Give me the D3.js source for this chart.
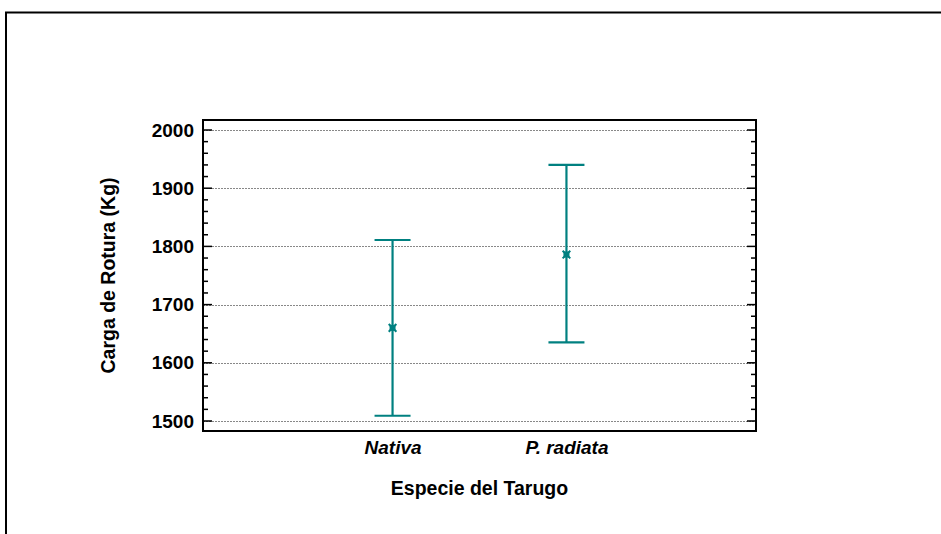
<!DOCTYPE html>
<html lang="es">
  <head>
    <meta charset="utf-8">
    <title>Carga de Rotura por especie</title>
    <script src="https://cdn.jsdelivr.net/npm/d3@7"></script>
    <style>
      body { margin: 0; background: #fff; }
      svg { display: block; font-family: "Liberation Sans", Arial, sans-serif; }
    </style>
  </head>
  <body>
    <script>
    // datos (media e intervalo)
    var species = ["Nativa", "P. radiata"];
    var means = [1660, 1786];
    var lower = [1509, 1635];
    var upper = [1811, 1940];
    var yTicks = [1500, 1600, 1700, 1800, 1900, 2000];

    var w = 941, h = 534;
    var pLeft = 203, pRight = 756, pTop = 120, pBottom = 431;
    var teal = "#008080";

    var svg = d3.select("body").append("svg")
                .attr("width", w)
                .attr("height", h);

    // marco exterior
    svg.append("path")
       .attr("d", "M6,534 V12.5 H941")
       .attr("fill", "none")
       .attr("stroke", "#000")
       .attr("stroke-width", 2);

    var yScale = d3.scaleLinear()
                   .domain([1500, 2000])
                   .range([421, 130]);
    // extender el dominio hasta los bordes del area
    yScale.domain([yScale.invert(pBottom), yScale.invert(pTop)]).range([pBottom, pTop]);

    var xScale = d3.scalePoint()
                   .domain(species)
                   .range([pLeft, pRight])
                   .padding(1.09);

    // lineas de grilla
    svg.selectAll(".grid")
       .data(yTicks)
       .enter()
       .append("line")
       .attr("x1", pLeft).attr("x2", pRight)
       .attr("y1", function(d) { return Math.round(yScale(d)) + 0.5; })
       .attr("y2", function(d) { return Math.round(yScale(d)) + 0.5; })
       .attr("stroke", "#888")
       .attr("stroke-dasharray", "2,1");

    // ticks menores cada 20
    var minor = d3.range(1500, 2001, 20).filter(function(d) { return d % 100 != 0; });
    var tickG = svg.append("g").attr("stroke", "#000").attr("stroke-width", 1.5);
    tickG.selectAll(".minL").data(minor).enter().append("line")
         .attr("x1", pLeft).attr("x2", pLeft + 5)
         .attr("y1", function(d) { return yScale(d); })
         .attr("y2", function(d) { return yScale(d); });
    tickG.selectAll(".minR").data(minor).enter().append("line")
         .attr("x1", pRight - 5).attr("x2", pRight)
         .attr("y1", function(d) { return yScale(d); })
         .attr("y2", function(d) { return yScale(d); });
    tickG.selectAll(".majL").data(yTicks).enter().append("line")
         .attr("x1", pLeft).attr("x2", pLeft + 9)
         .attr("y1", function(d) { return yScale(d); })
         .attr("y2", function(d) { return yScale(d); });
    tickG.selectAll(".majR").data(yTicks).enter().append("line")
         .attr("x1", pRight - 9).attr("x2", pRight)
         .attr("y1", function(d) { return yScale(d); })
         .attr("y2", function(d) { return yScale(d); });

    // borde del area de grafico
    svg.append("rect")
       .attr("x", pLeft).attr("y", pTop)
       .attr("width", pRight - pLeft).attr("height", pBottom - pTop)
       .attr("fill", "none")
       .attr("stroke", "#000")
       .attr("stroke-width", 2);

    // eje y (solo etiquetas)
    var yAxis = d3.axisLeft(yScale).tickValues(yTicks).tickFormat(d3.format("d"))
                  .tickSize(0).tickPadding(9);
    var gy = svg.append("g").attr("transform", "translate(" + pLeft + ",0)").call(yAxis);
    gy.select(".domain").remove();
    gy.selectAll("text")
      .attr("font-family", "Liberation Sans, Arial, sans-serif")
      .attr("font-size", 19)
      .attr("font-weight", "bold")
      .attr("fill", "#000");

    // eje x (solo etiquetas)
    var xAxis = d3.axisBottom(xScale).tickSize(0).tickPadding(10);
    var gx = svg.append("g").attr("transform", "translate(0," + pBottom + ")").call(xAxis);
    gx.select(".domain").remove();
    gx.selectAll("text")
      .attr("font-family", "Liberation Sans, Arial, sans-serif")
      .attr("font-size", 19)
      .attr("font-weight", "bold")
      .attr("font-style", "italic")
      .attr("fill", "#000");

    // titulos
    svg.append("text")
       .attr("x", (pLeft + pRight) / 2)
       .attr("y", 495)
       .attr("text-anchor", "middle")
       .attr("font-size", 19.5)
       .attr("font-weight", "bold")
       .text("Especie del Tarugo");

    svg.append("text")
       .attr("transform", "translate(115," + (pTop + pBottom) / 2 + ") rotate(-90)")
       .attr("text-anchor", "middle")
       .attr("font-size", 19.5)
       .attr("font-weight", "bold")
       .text("Carga de Rotura (Kg)");

    // barras de intervalo
    var data = species.map(function(s, i) {
      return { name: s, mean: means[i], lo: lower[i], hi: upper[i] };
    });

    var bars = svg.append("g")
                  .attr("stroke", teal)
                  .attr("stroke-width", 2.2)
                  .attr("fill", "none");

    bars.selectAll(".v").data(data).enter().append("line")
        .attr("x1", function(d) { return xScale(d.name); })
        .attr("x2", function(d) { return xScale(d.name); })
        .attr("y1", function(d) { return yScale(d.hi); })
        .attr("y2", function(d) { return yScale(d.lo); });
    bars.selectAll(".capH").data(data).enter().append("line")
        .attr("x1", function(d) { return xScale(d.name) - 18; })
        .attr("x2", function(d) { return xScale(d.name) + 18; })
        .attr("y1", function(d) { return yScale(d.hi); })
        .attr("y2", function(d) { return yScale(d.hi); });
    bars.selectAll(".capL").data(data).enter().append("line")
        .attr("x1", function(d) { return xScale(d.name) - 18; })
        .attr("x2", function(d) { return xScale(d.name) + 18; })
        .attr("y1", function(d) { return yScale(d.lo); })
        .attr("y2", function(d) { return yScale(d.lo); });

    // marcador de la media
    var star = d3.symbol().type(d3.symbolX).size(40);
    svg.selectAll(".mean").data(data).enter().append("path")
       .attr("d", star)
       .attr("transform", function(d) {
         return "translate(" + xScale(d.name) + "," + yScale(d.mean) + ")";
       })
       .attr("stroke", teal)
       .attr("stroke-width", 2)
       .attr("fill", "none");
    svg.selectAll(".meanc").data(data).enter().append("rect")
       .attr("x", function(d) { return xScale(d.name) - 3; })
       .attr("y", function(d) { return yScale(d.mean) - 3; })
       .attr("width", 6).attr("height", 6)
       .attr("fill", teal);
    </script>
  </body>
</html>
